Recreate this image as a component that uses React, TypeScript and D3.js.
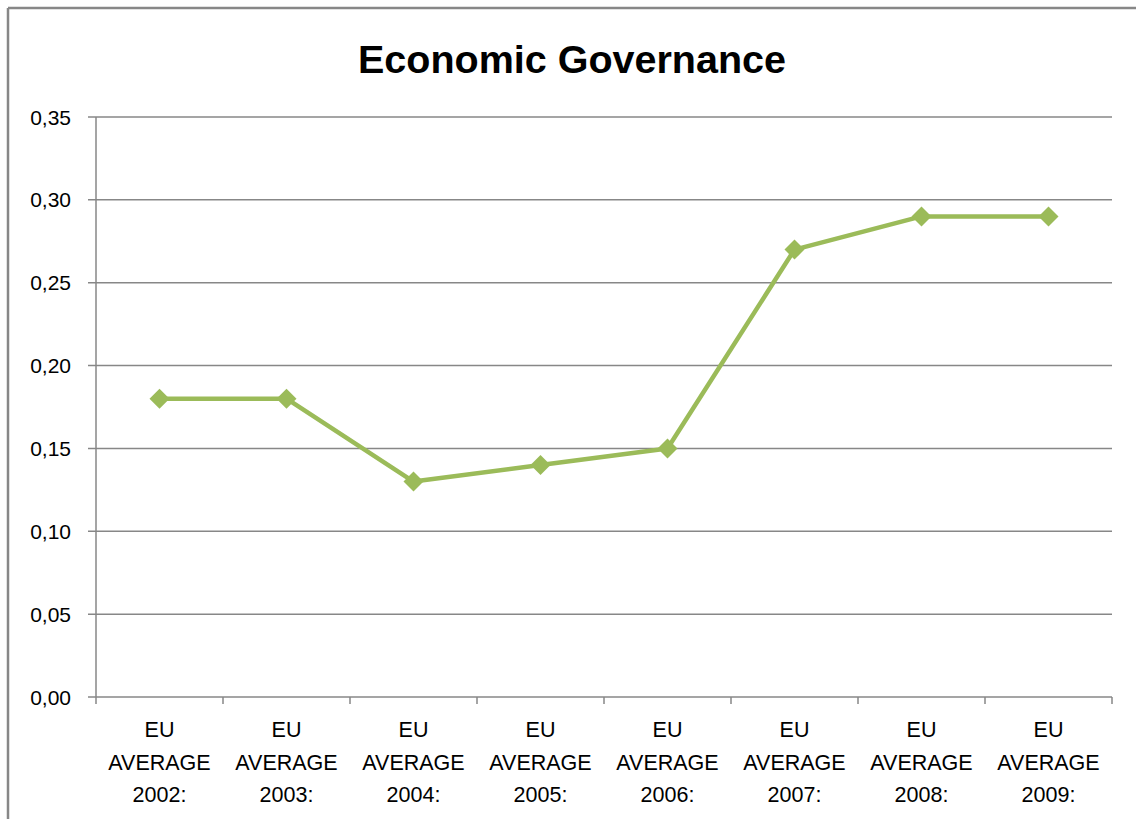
import React from "react";
import * as d3 from "d3";

const categories = ["2002", "2003", "2004", "2005", "2006", "2007", "2008", "2009"];
const values = [0.18, 0.18, 0.13, 0.14, 0.15, 0.27, 0.29, 0.29];
const yTicks = [0, 0.05, 0.1, 0.15, 0.2, 0.25, 0.3, 0.35];
const title = "Economic Governance";

const W = 1136;
const H = 819;
const M = { left: 96, right: 1112, top: 117, bottom: 697 };
const GRAY = "#878787";
const GREEN = "#9BBB59";
const FONT = "'Liberation Sans', Arial, sans-serif";

export default function App() {
  const x = d3.scaleBand<string>().domain(categories).range([M.left, M.right]).padding(0);
  const y = d3.scaleLinear().domain([0, 0.35]).range([M.bottom, M.top]);
  const fmt = (v: number) => d3.format(".2f")(v).replace(".", ",");
  const cx = (c: string) => (x(c) as number) + x.bandwidth() / 2;

  const line = d3
    .line<number>()
    .x((_, i) => cx(categories[i]))
    .y((v) => y(v));

  const marker = d3.symbol().type(d3.symbolSquare).size(200)();

  const boundaries = categories.map((c) => x(c) as number).concat([M.right]);

  return (
    <svg
      width={W}
      height={H}
      style={{ position: "absolute", left: 0, top: 0, background: "#fff" }}
      fontFamily={FONT}
    >
      <rect x={0} y={0} width={W} height={H} fill="#fff" />
      {/* chart border */}
      <line x1={8} y1={8} x2={W} y2={8} stroke={GRAY} strokeWidth={2.5} />
      <line x1={8} y1={8} x2={8} y2={H} stroke={GRAY} strokeWidth={2.5} />

      <text
        x={572}
        y={73}
        textAnchor="middle"
        fontSize={39.5}
        fontWeight="bold"
        fill="#000"
      >
        {title}
      </text>

      {/* gridlines and y ticks */}
      {yTicks.map((t) => (
        <g key={t}>
          <line
            x1={M.left - 8}
            x2={M.right}
            y1={y(t)}
            y2={y(t)}
            stroke={GRAY}
            strokeWidth={1.5}
          />
          <text
            x={71}
            y={y(t)}
            dy="0.36em"
            textAnchor="end"
            fontSize={21}
            fill="#000"
          >
            {fmt(t)}
          </text>
        </g>
      ))}

      {/* y axis */}
      <line x1={M.left} x2={M.left} y1={M.top} y2={M.bottom} stroke={GRAY} strokeWidth={1.5} />

      {/* x ticks */}
      {boundaries.map((b, i) => (
        <line key={i} x1={b} x2={b} y1={M.bottom} y2={M.bottom + 7} stroke={GRAY} strokeWidth={1.5} />
      ))}

      {/* x labels */}
      {categories.map((c) => (
        <text key={c} x={cx(c)} textAnchor="middle" fontSize={21.5} fill="#000">
          <tspan x={cx(c)} y={737}>EU</tspan>
          <tspan x={cx(c)} y={770}>AVERAGE</tspan>
          <tspan x={cx(c)} y={802}>{c}:</tspan>
        </text>
      ))}

      {/* series */}
      <path d={line(values) || ""} fill="none" stroke={GREEN} strokeWidth={4.5} strokeLinejoin="round" />
      {values.map((v, i) => (
        <path
          key={i}
          d={marker || ""}
          transform={`translate(${cx(categories[i])},${y(v)}) rotate(45)`}
          fill={GREEN}
        />
      ))}
    </svg>
  );
}
